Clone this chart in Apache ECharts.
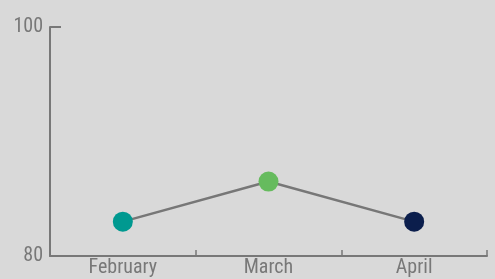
<!DOCTYPE html>
<html>
<head>
<meta charset="utf-8">
<script src="https://cdn.jsdelivr.net/npm/echarts@6/dist/echarts.min.js"></script>
<style>
  html, body { margin: 0; padding: 0; background: #d9d9d9; }
  #chart { width: 495px; height: 279px; }
</style>
</head>
<body>
<div id="chart"></div>
<script>
const months = ['February', 'March', 'April'];
const values = [83, 86.5, 83];
const pointColors = ['#009990', '#66bb5e', '#0b1e4c'];
const yTicks = [80, 100];

const axisGrey = '#787878';
const font = '"Roboto Condensed", "DejaVu Sans Condensed", sans-serif';

const chart = echarts.init(document.getElementById('chart'));
chart.setOption({
  backgroundColor: '#d9d9d9',
  animation: false,
  grid: { left: 50, right: 8, top: 27, bottom: 23, containLabel: false },
  xAxis: {
    type: 'category',
    data: months,
    boundaryGap: true,
    axisLine: { lineStyle: { color: axisGrey, width: 2 } },
    axisTick: { show: true, inside: true, length: 6, lineStyle: { color: axisGrey, width: 1.5 } },
    axisLabel: { color: axisGrey, fontFamily: font, fontSize: 20, margin: 2 }
  },
  yAxis: {
    type: 'value',
    min: yTicks[0],
    max: yTicks[1],
    interval: yTicks[1] - yTicks[0],
    splitLine: { show: false },
    axisLine: { show: true, lineStyle: { color: axisGrey, width: 2 } },
    axisTick: { show: true, inside: true, length: 11, lineStyle: { color: axisGrey, width: 2 } },
    axisLabel: { color: axisGrey, fontFamily: font, fontSize: 20, margin: 7 }
  },
  series: [{
    type: 'line',
    data: values.map((v, i) => ({ value: v, itemStyle: { color: pointColors[i] } })),
    symbol: 'circle',
    symbolSize: 20,
    lineStyle: { color: '#777777', width: 2.5 },
    itemStyle: { borderWidth: 0 }
  }]
});
</script>
</body>
</html>
